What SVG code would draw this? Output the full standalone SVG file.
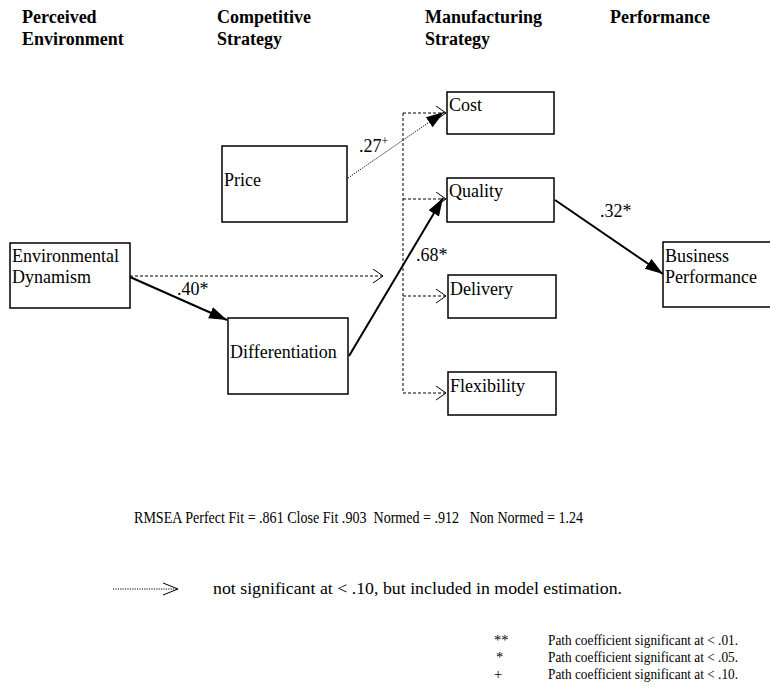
<svg xmlns="http://www.w3.org/2000/svg" width="770" height="687" viewBox="0 0 770 687">
<style>
.h{font-family:"Liberation Serif","Times New Roman",serif;font-weight:bold;font-size:18px;fill:#000}
.t{font-family:"Liberation Serif","Times New Roman",serif;font-size:18px;fill:#000}
.s{font-family:"Liberation Serif","Times New Roman",serif;font-size:17px;fill:#000}
.f{font-family:"Liberation Serif","Times New Roman",serif;font-size:14.5px;fill:#000}
.box{fill:#fff;stroke:#000;stroke-width:1.5}
.solid{stroke:#000;stroke-width:2;fill:none}
.dash{stroke:#000;stroke-width:1;stroke-dasharray:3,2;fill:none}
.dot{stroke:#000;stroke-width:1;stroke-dasharray:1.2,1.2;fill:none}
</style>
<defs>
<marker id="fill" markerUnits="userSpaceOnUse" markerWidth="20" markerHeight="14" refX="18" refY="6" orient="auto">
<path d="M0,0 L18,6 L0,12 z" fill="#000"/>
</marker>
<marker id="open" markerUnits="userSpaceOnUse" markerWidth="12" markerHeight="16" refX="10.5" refY="7" orient="auto">
<path d="M0.5,0 L10.5,7 L0.5,14" fill="none" stroke="#000" stroke-width="1"/>
</marker>
</defs>
<rect width="770" height="687" fill="#fff"/>

<g id="headers">
<text class="h" x="22" y="23">Perceived</text>
<text class="h" x="22" y="45">Environment</text>
<text class="h" x="217" y="23">Competitive</text>
<text class="h" x="217" y="45">Strategy</text>
<text class="h" x="425" y="23">Manufacturing</text>
<text class="h" x="425" y="45">Strategy</text>
<text class="h" x="610" y="23">Performance</text>
</g>

<g id="connectors">
<path class="dash" d="M403,113 V393"/>
<path class="dash" d="M403,113 H446" marker-end="url(#open)"/>
<path class="dash" d="M403,199 H446" marker-end="url(#open)"/>
<path class="dash" d="M403,296 H446" marker-end="url(#open)"/>
<path class="dash" d="M403,393 H446" marker-end="url(#open)"/>
<path class="dash" d="M130,276 H383" marker-end="url(#open)"/>
<path class="dot" d="M348,178 L444,112" marker-end="url(#fill)"/>
<path class="solid" d="M130,277 L227,320" marker-end="url(#fill)"/>
<path class="solid" d="M349,356 L443,198" marker-end="url(#fill)"/>
<path class="solid" d="M555,200 L663,274" marker-end="url(#fill)"/>
</g>

<g id="labels">
<text class="t" x="359" y="152">.27<tspan font-size="12" dy="-7">+</tspan></text>
<text class="t" x="416" y="261">.68*</text>
<text class="t" x="177" y="295">.40*</text>
<text class="t" x="600" y="217">.32*</text>
</g>

<g id="env">
<rect class="box" x="10" y="243" width="120" height="65"/>
<text class="t" x="12" y="262">Environmental</text>
<text class="t" x="12" y="283">Dynamism</text>
</g>
<g id="price">
<rect class="box" x="222" y="146" width="125" height="76"/>
<text class="t" x="224" y="186">Price</text>
</g>
<g id="diff">
<rect class="box" x="228" y="318" width="120" height="76"/>
<text class="t" x="230" y="358">Differentiation</text>
</g>
<g id="cost">
<rect class="box" x="447" y="92" width="107" height="42"/>
<text class="t" x="449" y="111">Cost</text>
</g>
<g id="quality">
<rect class="box" x="447" y="178" width="107" height="44"/>
<text class="t" x="449" y="197">Quality</text>
</g>
<g id="delivery">
<rect class="box" x="448" y="275" width="108" height="43"/>
<text class="t" x="450" y="295">Delivery</text>
</g>
<g id="flexibility">
<rect class="box" x="448" y="372" width="108" height="43"/>
<text class="t" x="450" y="392">Flexibility</text>
</g>
<g id="bp">
<rect class="box" x="663" y="242" width="110" height="65"/>
<text class="t" x="665" y="262">Business</text>
<text class="t" x="665" y="283">Performance</text>
</g>

<g id="fit">
<text class="s" x="134" y="523" textLength="449" lengthAdjust="spacingAndGlyphs" xml:space="preserve">RMSEA Perfect Fit = .861 Close Fit .903  Normed = .912   Non Normed = 1.24</text>
</g>

<g id="legend">
<path class="dot" d="M113,589 H178" stroke-width="0.8"/>
<path d="M163,583 L178,589 L163,595" fill="none" stroke="#000" stroke-width="1"/>
<text class="s" x="213" y="594" textLength="409" lengthAdjust="spacingAndGlyphs">not significant at &lt; .10, but included in model estimation.</text>
<text class="f" x="494" y="645">**</text>
<text class="f" x="548" y="645" textLength="190" lengthAdjust="spacingAndGlyphs">Path coefficient significant at &lt; .01.</text>
<text class="f" x="496" y="662">*</text>
<text class="f" x="548" y="662" textLength="190" lengthAdjust="spacingAndGlyphs">Path coefficient significant at &lt; .05.</text>
<text class="f" x="494" y="679">+</text>
<text class="f" x="548" y="679" textLength="190" lengthAdjust="spacingAndGlyphs">Path coefficient significant at &lt; .10.</text>
</g>
</svg>
